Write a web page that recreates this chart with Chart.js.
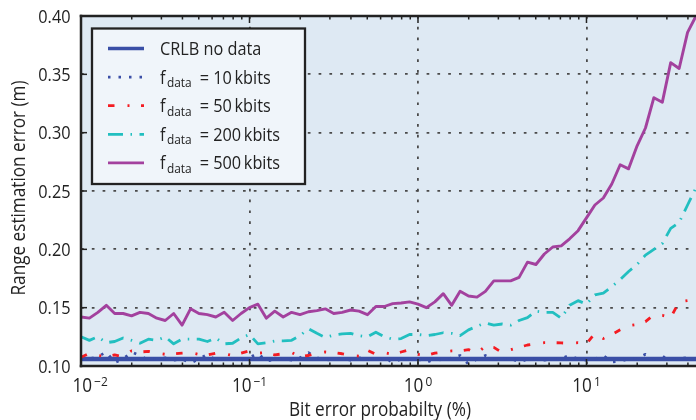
<!DOCTYPE html>
<html>
<head>
<meta charset="utf-8">
<style>
  html, body { margin: 0; padding: 0; background: #fff; }
  #wrap { width: 696px; height: 420px; }
</style>
</head>
<body>
<div id="wrap"><canvas id="rangeChart" width="696" height="420"></canvas></div>
<script src="https://cdn.jsdelivr.net/npm/chart.js@4.4.1/dist/chart.umd.min.js"></script>
<script>
// bit error probability (%), 20 points per decade
const berValues = [
  0.01, 0.01122, 0.01259, 0.01413, 0.01585, 0.01778, 0.01995, 0.02239, 0.02512, 0.02818,
  0.03162, 0.03548, 0.03981, 0.04467, 0.05012, 0.05623, 0.0631, 0.07079, 0.07943, 0.08913,
  0.1, 0.1122, 0.1259, 0.1413, 0.1585, 0.1778, 0.1995, 0.2239, 0.2512, 0.2818,
  0.3162, 0.3548, 0.3981, 0.4467, 0.5012, 0.5623, 0.631, 0.7079, 0.7943, 0.8913,
  1, 1.122, 1.259, 1.413, 1.585, 1.778, 1.995, 2.239, 2.512, 2.818,
  3.162, 3.548, 3.981, 4.467, 5.012, 5.623, 6.31, 7.079, 7.943, 8.913,
  10, 11.22, 12.59, 14.13, 15.85, 17.78, 19.95, 22.39, 25.12, 28.18,
  31.62, 35.48, 39.81, 44.67, 50.12
];

// CRLB without data is flat
const crlbX = [0.01, 50.12];
const crlbY = [0.106, 0.106];

const data10k = [
  0.107, 0.106, 0.108, 0.112, 0.103, 0.106, 0.112, 0.109, 0.105, 0.106,
  0.107, 0.105, 0.106, 0.1025, 0.106, 0.110, 0.105, 0.1065, 0.106, 0.105,
  0.107, 0.111, 0.104, 0.106, 0.1065, 0.105, 0.107, 0.1115, 0.107, 0.105,
  0.106, 0.1065, 0.105, 0.107, 0.106, 0.105, 0.1075, 0.103, 0.106, 0.1065,
  0.106, 0.103, 0.106, 0.105, 0.107, 0.109, 0.1015, 0.106, 0.109, 0.1055,
  0.106, 0.107, 0.103, 0.106, 0.1065, 0.105, 0.106, 0.1065, 0.109, 0.106,
  0.105, 0.106, 0.109, 0.1035, 0.104, 0.106, 0.1065, 0.110, 0.106, 0.108,
  0.106, 0.1065, 0.107, 0.106, 0.106
];

const data50k = [
  0.1075, 0.111, 0.109, 0.108, 0.1095, 0.108, 0.113, 0.112, 0.1125, 0.111,
  0.110, 0.1105, 0.111, 0.1115, 0.110, 0.1095, 0.111, 0.1105, 0.109, 0.111,
  0.113, 0.111, 0.1115, 0.1095, 0.1105, 0.1115, 0.108, 0.109, 0.111, 0.112,
  0.1115, 0.1105, 0.109, 0.1085, 0.1135, 0.110, 0.1115, 0.110, 0.112, 0.114,
  0.110, 0.109, 0.111, 0.112, 0.113, 0.113, 0.114, 0.111, 0.117, 0.116,
  0.1115, 0.114, 0.116, 0.118, 0.119, 0.120, 0.120, 0.1198, 0.1195, 0.120,
  0.119, 0.128, 0.1235, 0.127, 0.131, 0.1345, 0.1355, 0.138, 0.144, 0.1435,
  0.1415, 0.155, 0.156, 0.156, 0.157
];

const data200k = [
  0.125, 0.122, 0.125, 0.120, 0.121, 0.124, 0.122, 0.1195, 0.123, 0.122,
  0.125, 0.119, 0.123, 0.123, 0.123, 0.121, 0.124, 0.119, 0.1195, 0.124,
  0.127, 0.119, 0.120, 0.1215, 0.1215, 0.122, 0.126, 0.132, 0.128, 0.1245,
  0.1265, 0.1275, 0.128, 0.126, 0.125, 0.129, 0.125, 0.123, 0.1235, 0.127,
  0.127, 0.126, 0.127, 0.1285, 0.128, 0.126, 0.131, 0.134, 0.137, 0.135,
  0.136, 0.135, 0.139, 0.1415, 0.147, 0.146, 0.146, 0.141, 0.152, 0.156,
  0.153, 0.161, 0.1625, 0.168, 0.174, 0.181, 0.187, 0.195, 0.200, 0.205,
  0.218, 0.223, 0.238, 0.253, 0.255
];

const data500k = [
  0.142, 0.141, 0.146, 0.152, 0.145, 0.145, 0.143, 0.146, 0.145, 0.141,
  0.139, 0.145, 0.135, 0.149, 0.145, 0.144, 0.142, 0.146, 0.139, 0.145,
  0.150, 0.153, 0.141, 0.147, 0.142, 0.146, 0.144, 0.1465, 0.1475, 0.149,
  0.145, 0.146, 0.148, 0.147, 0.144, 0.151, 0.151, 0.1535, 0.154, 0.155,
  0.153, 0.150, 0.155, 0.162, 0.152, 0.164, 0.160, 0.159, 0.164, 0.173,
  0.173, 0.173, 0.176, 0.189, 0.187, 0.196, 0.202, 0.203, 0.209, 0.216,
  0.227, 0.238, 0.244, 0.256, 0.2725, 0.269, 0.2885, 0.304, 0.330, 0.326,
  0.360, 0.355, 0.386, 0.400, 0.415
];

const xMajor = [0.01, 0.1, 1, 10];
const xMinorSteps = [2, 3, 4, 5, 6, 7, 8, 9];
const yTicks = [0.10, 0.15, 0.20, 0.25, 0.30, 0.35, 0.40];

const legendLabels = [
  { main: "CRLB no data" },
  { main: "f", sub: "data", rest: "= 10\u2009kbits" },
  { main: "f", sub: "data", rest: "= 50\u2009kbits" },
  { main: "f", sub: "data", rest: "= 200\u2009kbits" },
  { main: "f", sub: "data", rest: "= 500\u2009kbits" }
];

const toPoints = (xs, ys) => ys.map((v, i) => ({ x: xs[i], y: v }));

// condensed look of the original font
const SQUEEZE = 0.88;
const FONT = '"Open Sans", "DejaVu Sans", sans-serif';

function drawText(ctx, s, x, y, size, align) {
  ctx.save();
  ctx.font = size + "px " + FONT;
  const w = ctx.measureText(s).width * SQUEEZE;
  let x0 = x;
  if (align === "right") x0 = x - w;
  if (align === "center") x0 = x - w / 2;
  ctx.translate(x0, y);
  ctx.scale(SQUEEZE, 1);
  ctx.textAlign = "left";
  ctx.textBaseline = "alphabetic";
  ctx.fillStyle = "#222";
  ctx.fillText(s, 0, 0);
  ctx.restore();
  return w;
}

function textWidth(ctx, s, size) {
  ctx.save();
  ctx.font = size + "px " + FONT;
  const w = ctx.measureText(s).width * SQUEEZE;
  ctx.restore();
  return w;
}

function seg(ctx, x1, y1, x2, y2) {
  ctx.beginPath();
  ctx.moveTo(x1, y1);
  ctx.lineTo(x2, y2);
  ctx.stroke();
}

const plotBackground = {
  id: "plotBackground",
  beforeDraw(chart) {
    const { ctx, chartArea: a } = chart;
    ctx.save();
    ctx.fillStyle = "#dee9f3";
    ctx.fillRect(a.left, a.top, a.right - a.left, a.bottom - a.top);
    ctx.restore();
  }
};

const frameAndLegend = {
  id: "frameAndLegend",
  afterDatasetsDraw(chart) {
    const { ctx, chartArea: a, scales: { x, y } } = chart;
    ctx.save();

    // inward ticks
    ctx.strokeStyle = "#222";
    ctx.lineWidth = 1.5;
    xMajor.forEach(v => {
      const px = x.getPixelForValue(v);
      seg(ctx, px, a.bottom, px, a.bottom - 7);
      seg(ctx, px, a.top, px, a.top + 7);
      xMinorSteps.forEach(m => {
        const mv = v * m;
        if (mv > x.max) return;
        const mx = x.getPixelForValue(mv);
        seg(ctx, mx, a.bottom, mx, a.bottom - 3.5);
        seg(ctx, mx, a.top, mx, a.top + 3.5);
      });
    });
    yTicks.forEach(v => {
      const py = y.getPixelForValue(v);
      seg(ctx, a.left, py, a.left + 6, py);
    });

    // axes frame (right side is cut off in the original)
    ctx.lineWidth = 2.5;
    ctx.lineCap = "square";
    seg(ctx, a.left, a.top, a.left, a.bottom);
    seg(ctx, a.left, a.bottom, a.right + 2, a.bottom);
    seg(ctx, a.left, a.top, a.right + 2, a.top);

    // legend
    const bx = 92, by = 28.5, bw = 213, bh = 155.5;
    ctx.lineCap = "butt";
    ctx.fillStyle = "#f0f5fa";
    ctx.fillRect(bx, by, bw, bh);
    ctx.lineWidth = 2.3;
    ctx.strokeStyle = "#222";
    ctx.strokeRect(bx, by, bw, bh);

    chart.data.datasets.forEach((ds, i) => {
      const yc = 48.5 + i * 28.6;
      ctx.save();
      ctx.strokeStyle = ds.borderColor;
      ctx.lineWidth = Math.min(ds.borderWidth, 3.4);
      ctx.setLineDash(ds.borderDash || []);
      seg(ctx, 108, yc, 144, yc);
      ctx.restore();

      const lab = legendLabels[i];
      let tx = 160;
      tx += drawText(ctx, lab.main, tx, yc + 6.5, 18.5, "left");
      if (lab.sub) {
        tx += 1.5;
        tx += drawText(ctx, lab.sub, tx, yc + 9.8, 13.5, "left");
        tx += 8;
        drawText(ctx, lab.rest, tx, yc + 6.5, 18.5, "left");
      }
    });
    ctx.restore();
  },
  afterDraw(chart) {
    const { ctx, scales: { x, y } } = chart;

    // y tick labels
    yTicks.forEach(v => {
      drawText(ctx, v.toFixed(2), 70.5, y.getPixelForValue(v) + 6.6, 18.5, "right");
    });

    // x tick labels as powers of ten
    xMajor.forEach(v => {
      const exp = String(Math.round(Math.log10(v))).replace("-", "\u2212");
      const wBase = textWidth(ctx, "10", 19.5);
      const wExp = textWidth(ctx, exp, 13.5);
      const w = wBase + 2 + wExp;
      let left = x.getPixelForValue(v) - w / 2;
      if (left < 72.5) left = 72.5;
      drawText(ctx, "10", left, 392, 19.5, "left");
      drawText(ctx, exp, left + wBase + 2, 385.5, 13.5, "left");
    });

    // axis titles
    drawText(ctx, "Bit error probabilty (%)", 380, 416, 19.5, "center");
    ctx.save();
    ctx.translate(25, 188);
    ctx.rotate(-Math.PI / 2);
    drawText(ctx, "Range estimation error (m)", 0, 0, 19.5, "center");
    ctx.restore();
  }
};

const gridStyle = { color: "#4a4a4a", lineWidth: 1.8, drawTicks: false };
const dotted = { display: false, dash: [2.7, 8.1] };

new Chart(document.getElementById("rangeChart"), {
  type: "line",
  data: {
    datasets: [
      {
        label: "CRLB no data",
        data: toPoints(crlbX, crlbY),
        borderColor: "#3a4fa6",
        borderWidth: 4.6,
        order: 5
      },
      {
        label: "f_data = 10 kbits",
        data: toPoints(berValues, data10k),
        borderColor: "#3a4fa6",
        borderWidth: 2.8,
        borderDash: [2.5, 8],
        order: 4
      },
      {
        label: "f_data = 50 kbits",
        data: toPoints(berValues, data50k),
        borderColor: "#f41c22",
        borderWidth: 2.8,
        borderDash: [6.5, 13, 2, 11.5],
        order: 3
      },
      {
        label: "f_data = 200 kbits",
        data: toPoints(berValues, data200k),
        borderColor: "#22bfc0",
        borderWidth: 2.8,
        borderDash: [15, 7.5, 1.5, 7.5],
        order: 2
      },
      {
        label: "f_data = 500 kbits",
        data: toPoints(berValues, data500k),
        borderColor: "#a3419e",
        borderWidth: 2.9,
        order: 1
      }
    ]
  },
  options: {
    responsive: false,
    animation: false,
    devicePixelRatio: 1,
    layout: { padding: { top: 16, right: 0, left: 0, bottom: 0 } },
    elements: { point: { radius: 0 }, line: { tension: 0, borderJoinStyle: "round" } },
    plugins: { legend: { display: false }, tooltip: { enabled: false } },
    scales: {
      x: {
        type: "logarithmic",
        min: 0.01,
        max: 44.67,
        afterBuildTicks: s => { s.ticks = xMajor.map(v => ({ value: v })); },
        afterFit: s => { s.height = 54; },
        ticks: { display: false },
        grid: gridStyle,
        border: dotted
      },
      y: {
        type: "linear",
        min: 0.1,
        max: 0.4,
        afterBuildTicks: s => { s.ticks = yTicks.map(v => ({ value: v })); },
        afterFit: s => { s.width = 81; },
        ticks: { display: false },
        grid: gridStyle,
        border: dotted
      }
    }
  },
  plugins: [plotBackground, frameAndLegend]
});
</script>
</body>
</html>
